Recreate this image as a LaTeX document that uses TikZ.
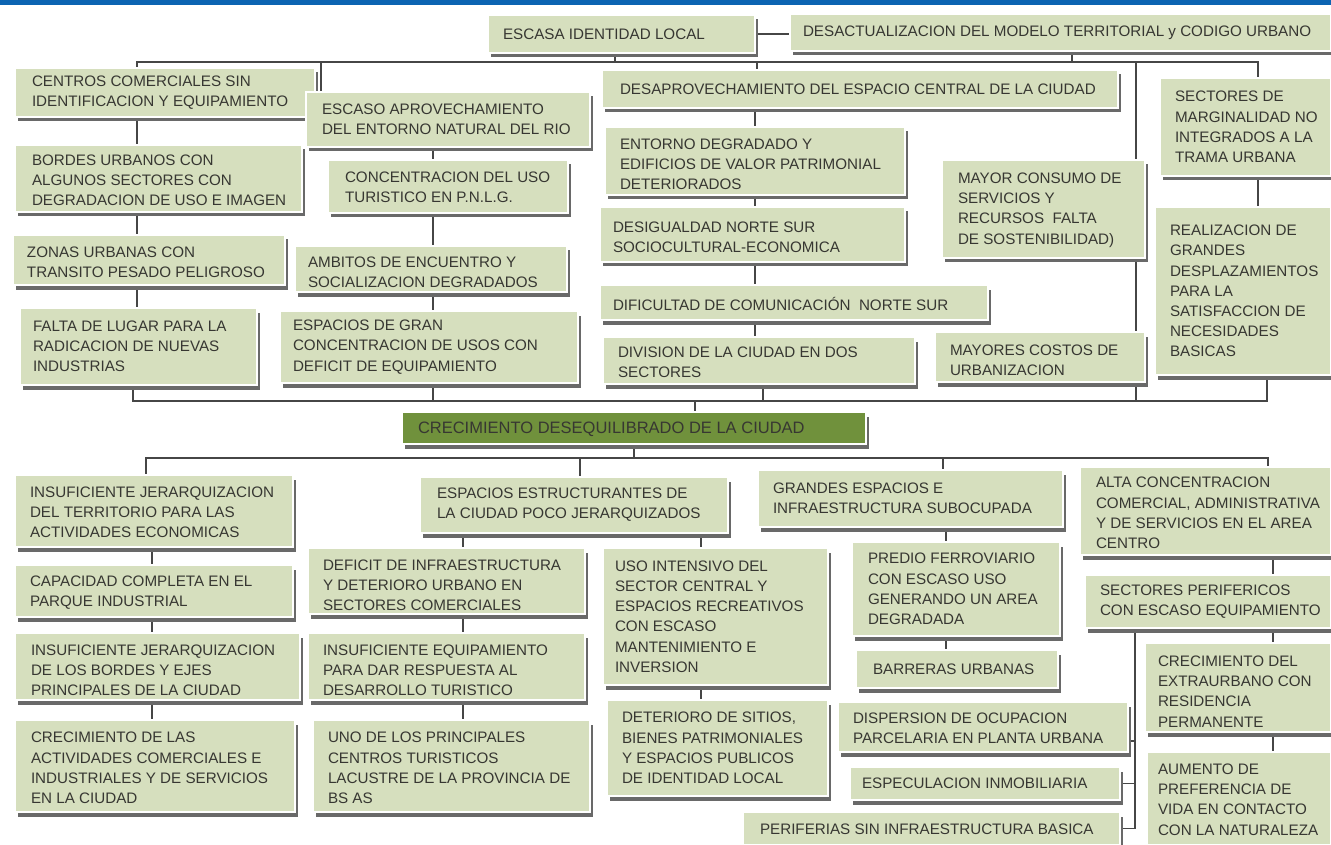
\documentclass[tikz,border=0pt]{standalone}
\usepackage{fontspec}
\setmainfont{Liberation Sans}
\usetikzlibrary{shadows}
\pgfdeclarelayer{bg}
\pgfsetlayers{bg,main}
\definecolor{boxgreen}{RGB}{214,223,190}
\definecolor{mainolive}{RGB}{112,145,60}
\definecolor{txtgray}{RGB}{55,55,50}
\definecolor{shadowgray}{RGB}{105,105,105}
\definecolor{conngray}{RGB}{70,70,70}
\definecolor{topblue}{RGB}{12,100,178}
\tikzset{
  box/.style={rectangle, fill=boxgreen, draw=white, line width=2.5pt, inner sep=0pt, outer sep=0pt,
    drop shadow={shadow xshift=2.5pt, shadow yshift=-4.5pt, opacity=1, fill=shadowgray}},
  darkbox/.style={box, fill=mainolive},
  lbl/.style={anchor=west, align=left, inner sep=0pt, outer sep=0pt, text=txtgray,
    font=\fontsize{15.2}{20.2}\selectfont},
  conn/.style={draw=conngray, line width=1.8pt, line cap=rect},
}
\newcommand{\mkbox}[9][box]{%
  \pgfmathsetmacro{\mkW}{#5-#3}%
  \pgfmathsetmacro{\mkH}{#6-#4}%
  \node[#1, anchor=north west, minimum width=\mkW pt, minimum height=\mkH pt] (#2) at (#3,#4) {};%
  \node[lbl] (#2t) at ([xshift=#7pt, yshift=-#8pt]#2.west) {#9};%
}
\begin{document}
\begin{tikzpicture}[x=1pt,y=-1pt]
\useasboundingbox (0,0) rectangle (1331,845);
\fill[topblue] (0,0) rectangle (1331,5);

% ---------- upper section ----------
\mkbox{A}{488}{15}{755}{53}{15}{0}{ESCASA IDENTIDAD LOCAL}
\mkbox{B}{790}{14}{1331}{51}{13}{0}{DESACTUALIZACION DEL MODELO TERRITORIAL y CODIGO URBANO}
\mkbox{C1}{15}{68}{315}{117}{17}{0}{CENTROS COMERCIALES SIN\\IDENTIFICACION Y EQUIPAMIENTO}
\mkbox{C2}{15}{145}{302}{212}{17}{2}{BORDES URBANOS CON\\ALGUNOS SECTORES CON\\DEGRADACION DE USO E IMAGEN}
\mkbox{C3}{13}{235}{285}{285}{14}{2}{ZONAS URBANAS CON\\TRANSITO PESADO PELIGROSO}
\mkbox{C4}{20}{308}{257}{385}{13}{0}{FALTA DE LUGAR PARA LA\\RADICACION DE NUEVAS\\INDUSTRIAS}
\mkbox{D1}{306}{92}{590}{147}{16}{0}{ESCASO APROVECHAMIENTO\\DEL ENTORNO NATURAL DEL RIO}
\mkbox{D2}{328}{160}{568}{213}{17}{1}{CONCENTRACION DEL USO\\TURISTICO EN P.N.L.G.}
\mkbox{D3}{295}{246}{567}{292}{13}{3}{AMBITOS DE ENCUENTRO Y\\SOCIALIZACION DEGRADADOS}
\mkbox{D4}{280}{311}{578}{383}{13}{0}{ESPACIOS DE GRAN\\CONCENTRACION DE USOS CON\\DEFICIT DE EQUIPAMIENTO}
\mkbox{E1}{602}{70}{1118}{108}{18}{0}{DESAPROVECHAMIENTO DEL ESPACIO CENTRAL DE LA CIUDAD}
\mkbox{E2}{605}{127}{905}{195}{15}{3}{ENTORNO DEGRADADO Y\\EDIFICIOS DE VALOR PATRIMONIAL\\DETERIORADOS}
\mkbox{E3}{600}{207}{905}{262}{13}{3}{DESIGUALDAD NORTE SUR\\SOCIOCULTURAL-ECONOMICA}
\mkbox{E4}{600}{285}{988}{320}{13}{1}{DIFICULTAD DE COMUNICACIÓN\ \ NORTE SUR}
\mkbox{E5}{603}{337}{915}{384}{15}{2}{DIVISION DE LA CIUDAD EN DOS\\SECTORES}
\mkbox{F1}{942}{160}{1145}{258}{16}{1}{MAYOR CONSUMO DE\\SERVICIOS Y\\RECURSOS\ \ FALTA\\DE SOSTENIBILIDAD)}
\mkbox{F2}{935}{332}{1145}{382}{15}{3}{MAYORES COSTOS DE\\URBANIZACION}
\mkbox{G1}{1160}{78}{1331}{176}{15}{0}{SECTORES DE\\MARGINALIDAD NO\\INTEGRADOS A LA\\TRAMA URBANA}
\mkbox{G2}{1155}{207}{1331}{375}{15}{0}{REALIZACION DE\\GRANDES\\DESPLAZAMIENTOS\\PARA LA\\SATISFACCION DE\\NECESIDADES\\BASICAS}

% ---------- central problem ----------
\mkbox[darkbox]{H}{402}{412}{866}{444}{16}{1}{\fontsize{16.5}{20}\selectfont CRECIMIENTO DESEQUILIBRADO DE LA CIUDAD}

% ---------- lower section ----------
\mkbox{I1}{15}{475}{293}{547}{15}{1}{INSUFICIENTE JERARQUIZACION\\DEL TERRITORIO PARA LAS\\ACTIVIDADES ECONOMICAS}
\mkbox{I2}{15}{565}{293}{617}{15}{2}{CAPACIDAD COMPLETA EN EL\\PARQUE INDUSTRIAL}
\mkbox{I3}{15}{633}{300}{700}{16}{4}{INSUFICIENTE JERARQUIZACION\\DE LOS BORDES Y EJES\\PRINCIPALES DE LA CIUDAD}
\mkbox{I4}{15}{720}{295}{812}{16}{2}{CRECIMIENTO DE LAS\\ACTIVIDADES COMERCIALES E\\INDUSTRIALES Y DE SERVICIOS\\EN LA CIUDAD}
\mkbox{J1}{420}{477}{728}{533}{17}{0}{ESPACIOS ESTRUCTURANTES DE\\LA CIUDAD POCO JERARQUIZADOS}
\mkbox{J2}{308}{548}{585}{614}{15}{4}{DEFICIT DE INFRAESTRUCTURA\\Y DETERIORO URBANO EN\\SECTORES COMERCIALES}
\mkbox{J3}{308}{633}{585}{700}{15}{4}{INSUFICIENTE EQUIPAMIENTO\\PARA DAR RESPUESTA AL\\DESARROLLO TURISTICO}
\mkbox{J4}{313}{720}{590}{812}{15}{2}{UNO DE LOS PRINCIPALES\\CENTROS TURISTICOS\\LACUSTRE DE LA PROVINCIA DE\\BS AS}
\mkbox{K1}{603}{548}{828}{685}{12}{0}{USO INTENSIVO DEL\\SECTOR CENTRAL Y\\ESPACIOS RECREATIVOS\\CON ESCASO\\MANTENIMIENTO E\\INVERSION}
\mkbox{K2}{607}{700}{828}{796}{15}{0}{DETERIORO DE SITIOS,\\BIENES PATRIMONIALES\\Y ESPACIOS PUBLICOS\\DE IDENTIDAD LOCAL}
\mkbox{L1}{758}{470}{1063}{527}{15}{0}{GRANDES ESPACIOS E\\INFRAESTRUCTURA SUBOCUPADA}
\mkbox{L2}{852}{542}{1060}{636}{16}{0}{PREDIO FERROVIARIO\\CON ESCASO USO\\GENERANDO UN AREA\\DEGRADADA}
\mkbox{L3}{856}{650}{1058}{688}{17}{0}{BARRERAS URBANAS}
\mkbox{L4}{838}{702}{1128}{752}{15}{1}{DISPERSION DE OCUPACION\\PARCELARIA EN PLANTA URBANA}
\mkbox{L5}{850}{767}{1120}{800}{12}{0}{ESPECULACION INMOBILIARIA}
\mkbox{L6}{743}{812}{1120}{845}{17}{1}{PERIFERIAS SIN INFRAESTRUCTURA BASICA}
\mkbox{M1}{1080}{467}{1331}{555}{16}{2}{ALTA CONCENTRACION\\COMERCIAL, ADMINISTRATIVA\\Y DE SERVICIOS EN EL AREA\\CENTRO}
\mkbox{M2}{1085}{575}{1331}{628}{15}{0}{SECTORES PERIFERICOS\\CON ESCASO EQUIPAMIENTO}
\mkbox{M3}{1145}{643}{1331}{732}{13}{4}{CRECIMIENTO DEL\\EXTRAURBANO CON\\RESIDENCIA\\PERMANENTE}
\mkbox{M4}{1147}{752}{1331}{845}{11}{1}{AUMENTO DE\\PREFERENCIA DE\\VIDA EN CONTACTO\\CON LA NATURALEZA}

% ---------- connectors ----------
\begin{pgfonlayer}{bg}
  % top bus
  \coordinate (tL) at (137,62);
  \coordinate (tR) at (1258,62);
  \coordinate (xA) at (615,0);
  \coordinate (xB) at (1072,0);
  \coordinate (xE) at (757,0);
  \coordinate (xD) at (321,0);
  \coordinate (xF) at (1136,0);
  \coordinate (uL) at (133,401);
  \coordinate (uR) at (1267,401);
  \coordinate (xC) at (137,0);
  \coordinate (xD2) at (433,0);
  \coordinate (xE2) at (755,0);
  \coordinate (xE3) at (763,0);
  \coordinate (xH) at (695,0);
  \draw[conn] (A.east) -- (A.east -| B.west);
  \draw[conn] (tL) -- (tR);
  \draw[conn] (A.south -| xA) -- (tL -| xA);
  \draw[conn] (B.south -| xB) -- (tL -| xB);
  \draw[conn] (tL -| xE) -- (E1.north -| xE);
  \draw[conn] (tL) -- (C1.north -| tL);
  \draw[conn] (tL -| xD) -- (D1.north -| xD);
  \draw[conn] (tR) -- (G1.north -| tR);
  \draw[conn] (tL -| xF) -- (uL -| xF);
  \draw[conn] (uL) -- (uR);
  \draw[conn] (C1.south -| xC) -- (C2.north -| xC);
  \draw[conn] (C2.south -| xC) -- (C3.north -| xC);
  \draw[conn] (C3.south -| xC) -- (C4.north -| xC);
  \draw[conn] (C4.south -| uL) -- (uL);
  \draw[conn] (D1.south -| xD2) -- (D2.north -| xD2);
  \draw[conn] (D2.south -| xD2) -- (D3.north -| xD2);
  \draw[conn] (D3.south -| xD2) -- (D4.north -| xD2);
  \draw[conn] (D4.south -| xD2) -- (uL -| xD2);
  \draw[conn] (E1.south -| xE2) -- (E2.north -| xE2);
  \draw[conn] (E2.south -| xE2) -- (E3.north -| xE2);
  \draw[conn] (E3.south -| xE2) -- (E4.north -| xE2);
  \draw[conn] (E4.south -| xE2) -- (E5.north -| xE2);
  \draw[conn] (E5.south -| xE3) -- (uL -| xE3);
  \draw[conn] (G1.south -| tR) -- (G2.north -| tR);
  \draw[conn] (G2.south -| uR) -- (uR);
  \draw[conn] (uL -| xH) -- (H.north -| xH);
  % lower bus
  \coordinate (lL) at (146,458);
  \coordinate (lR) at (1268,458);
  \coordinate (xH2) at (634,0);
  \coordinate (xJ) at (580,0);
  \coordinate (xL) at (943,0);
  \coordinate (xI) at (152,0);
  \coordinate (xJ2) at (463,0);
  \coordinate (xK) at (701,0);
  \coordinate (xL2) at (946,0);
  \coordinate (xM) at (1273,0);
  \coordinate (xT) at (1135,0);
  \draw[conn] (lL) -- (lR);
  \draw[conn] (H.south -| xH2) -- (lL -| xH2);
  \draw[conn] (lL) -- (I1.north -| lL);
  \draw[conn] (lL -| xJ) -- (J1.north -| xJ);
  \draw[conn] (lL -| xL) -- (L1.north -| xL);
  \draw[conn] (lR) -- (M1.north -| lR);
  \draw[conn] (I1.south -| xI) -- (I2.north -| xI);
  \draw[conn] (I2.south -| xI) -- (I3.north -| xI);
  \draw[conn] (I3.south -| xI) -- (I4.north -| xI);
  \draw[conn] (J1.south -| xJ2) -- (J2.north -| xJ2);
  \draw[conn] (J2.south -| xJ2) -- (J3.north -| xJ2);
  \draw[conn] (J3.south -| xJ2) -- (J4.north -| xJ2);
  \draw[conn] (J1.south -| xK) -- (K1.north -| xK);
  \draw[conn] (K1.south -| xK) -- (K2.north -| xK);
  \draw[conn] (L1.south -| xL2) -- (L2.north -| xL2);
  \draw[conn] (L2.south -| xL2) -- (L3.north -| xL2);
  \draw[conn] (M1.south -| xM) -- (M2.north -| xM);
  \draw[conn] (M2.south -| xM) -- (M3.north -| xM);
  \draw[conn] (M3.south -| xM) -- (M4.north -| xM);
  \draw[conn] (M2.south -| xT) -- (L6.east -| xT);
  \draw[conn] ([yshift=-14pt]L4.east) -- ([yshift=-14pt]L4.east -| xT);
  \draw[conn] (L5.east) -- (L5.east -| xT);
  \draw[conn] (L6.east) -- (L6.east -| xT);
\end{pgfonlayer}
\end{tikzpicture}
\end{document}
